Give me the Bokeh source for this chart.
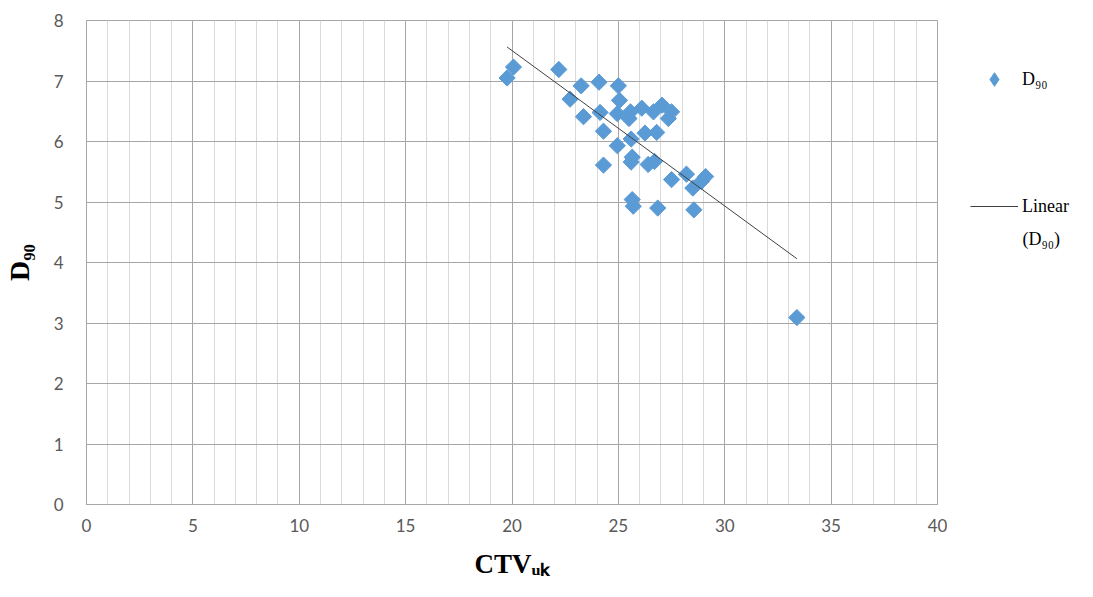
import numpy as np
from bokeh.plotting import figure
from bokeh.layouts import row
from bokeh.models import Range1d, SingleIntervalTicker, Legend, LegendItem, Label
from bokeh.embed import file_html
from bokeh.resources import INLINE

# ---- data ----
ctv = [19.77, 20.07, 22.20, 22.73, 23.25, 23.36, 24.09, 24.14, 24.30, 24.30,
       24.95, 25.00, 25.05, 24.95, 25.57, 25.50, 25.60, 26.10, 26.65, 27.05,
       27.50, 27.35, 26.25, 26.80, 25.65, 25.60, 26.40, 26.70, 27.50, 28.20,
       29.10, 28.90, 28.50, 25.65, 25.70, 26.85, 28.55, 33.39]
d90 = [7.05, 7.23, 7.19, 6.70, 6.92, 6.41, 6.98, 6.48, 6.17, 5.61,
       5.93, 6.92, 6.68, 6.46, 6.49, 6.38, 6.04, 6.55, 6.49, 6.60,
       6.49, 6.38, 6.14, 6.15, 5.74, 5.66, 5.62, 5.67, 5.37, 5.46,
       5.42, 5.34, 5.23, 5.04, 4.93, 4.90, 4.87, 3.09]
x_ticks = [0, 5, 10, 15, 20, 25, 30, 35, 40]
y_ticks = [0, 1, 2, 3, 4, 5, 6, 7, 8]
series_label = "D\u2089\u2080"
trend_label = "Linear"
trend_label2 = "(D\u2089\u2080)"
x_title = "CTV\u1d64\u2096"
y_title = "D\u2089\u2080"

# linear trendline over the data range
slope, intercept = np.polyfit(ctv, d90, 1)
tx = [min(ctv), max(ctv)]
ty = [slope * v + intercept for v in tx]

BLUE = "#5b9bd5"
TREND = "#404040"
H = 581
TOP, BOTTOM = 20, 75
FRAME_BOTTOM = H - BOTTOM  # frame bottom in canvas pixels (legend panel frame is aligned to it)

# ---------------- main chart ----------------
p = figure(width=947, height=H, output_backend="svg", toolbar_location=None,
           x_range=Range1d(x_ticks[0], x_ticks[-1]), y_range=Range1d(y_ticks[0], y_ticks[-1]),
           min_border_left=83, min_border_right=10, min_border_top=TOP, min_border_bottom=BOTTOM)
p.background_fill_color = "white"
p.border_fill_color = "white"
p.outline_line_color = "#a6a6a6"

p.xaxis.ticker = SingleIntervalTicker(interval=5, num_minor_ticks=5)
p.yaxis.ticker = SingleIntervalTicker(interval=1, num_minor_ticks=0)

for ax in (p.xaxis[0], p.yaxis[0]):
    ax.axis_line_color = "#a6a6a6"
    ax.major_tick_line_color = None
    ax.minor_tick_line_color = None
    ax.major_label_text_font = "Lato"
    ax.major_label_text_font_size = "17px"
    ax.major_label_text_color = "#595959"
    ax.axis_label_text_font = "Liberation Serif"
    ax.axis_label_text_font_style = "bold"
    ax.axis_label_text_color = "black"
p.yaxis.major_label_standoff = 17
p.xaxis.major_label_standoff = 8
p.xaxis.axis_label = x_title
p.yaxis.axis_label = y_title
p.xaxis.axis_label_text_font_size = "27px"
p.yaxis.axis_label_text_font_size = "28px"
p.xaxis.axis_label_text_line_height = 0.9
p.xaxis.axis_label_standoff = 14
p.yaxis.axis_label_standoff = 16

p.xgrid.grid_line_color = "#a6a6a6"
p.xgrid.minor_grid_line_color = "#d9d9d9"
p.ygrid.grid_line_color = "#a6a6a6"

p.scatter(ctv, d90, marker="square", angle=np.pi / 4, size=11.5,
          fill_color=BLUE, line_color=BLUE)
p.line(tx, ty, line_color=TREND, line_width=1)

# ---------------- legend panel ----------------
lf = figure(width=1077 - 947, height=H, output_backend="svg", toolbar_location=None,
            x_axis_type=None, y_axis_type=None, min_border=0,
            x_range=Range1d(x_ticks[0], x_ticks[-1]), y_range=Range1d(y_ticks[0], y_ticks[-1]))
lf.outline_line_color = None
lf.grid.visible = False
lf.background_fill_color = "white"
lf.border_fill_color = "white"

key_pts = lf.scatter(ctv, d90, marker="diamond", fill_color=BLUE, line_color=BLUE, visible=False)
key_line = lf.line(tx, ty, line_color=TREND, line_width=1, visible=False)

GH = 34
common = dict(padding=0, margin=0, glyph_width=48, glyph_height=GH, label_height=GH,
              label_standoff=4, label_text_font="Liberation Serif", label_text_font_size="18px",
              label_text_color="black", border_line_color=None, background_fill_alpha=0,
              inactive_fill_alpha=0)
leg1 = Legend(items=[LegendItem(label=series_label, renderers=[key_pts])],
              location=(23, FRAME_BOTTOM - 64 - GH), **common)
leg2 = Legend(items=[LegendItem(label=trend_label, renderers=[key_line])],
              location=(23, FRAME_BOTTOM - 191 - GH), **common)
lf.add_layout(leg1, "center")
lf.add_layout(leg2, "center")
lf.add_layout(Label(x=23 + 48 + 4, y=FRAME_BOTTOM - 240, x_units="screen", y_units="screen",
                    text=trend_label2, text_font="Liberation Serif", text_font_size="18px",
                    text_color="black", text_baseline="middle"))

layout = row(p, lf)
open("out.html", "w").write(file_html(layout, INLINE))
